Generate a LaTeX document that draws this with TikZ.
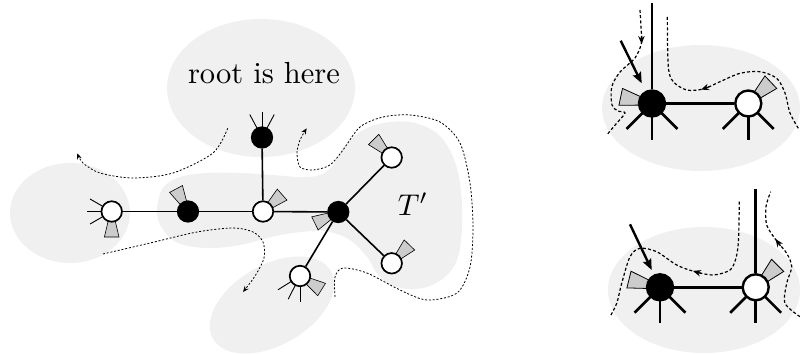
\documentclass[tikz,border=0pt]{standalone}
\usetikzlibrary{calc,arrows.meta}
\definecolor{blobgray}{gray}{0.94}
\definecolor{wedgegray}{gray}{0.8}
% wedge: centre, angle, r0, r1, half-width near, half-width far, line width
\newcommand{\wdg}[7]{%
  \filldraw[fill=wedgegray, draw=black, line width=#7]
    ($(#1)+(#2:#3)+(#2+90:#5)$) -- ($(#1)+(#2:#4)+(#2+90:#6)$) --
    ($(#1)+(#2:#4)+(#2-90:#6)$) -- ($(#1)+(#2:#3)+(#2-90:#5)$) -- cycle;}
\begin{document}
\begin{tikzpicture}[x=1pt,y=-1pt,
  blob/.style={fill=blobgray},
  wn/.style={circle, draw=black, fill=white, line width=1.7pt, minimum size=20.5pt, inner sep=0pt},
  bn/.style={wn, fill=black},
  WN/.style={circle, draw=black, fill=white, line width=2.4pt, minimum size=26pt, inner sep=0pt},
  BN/.style={WN, fill=black},
  edgeL/.style={line width=1.6pt},
  stubL/.style={line width=0.9pt},
  edgeR/.style={line width=2.6pt},
  dotL/.style={line width=0.8pt, dash pattern=on 2pt off 1.8pt},
  dotR/.style={line width=1.2pt, dash pattern=on 3pt off 2.2pt},
  tipL/.style={-{Stealth[length=6pt,width=5pt]}},
  tipR/.style={line width=1.2pt, -{Stealth[length=8pt,width=6.5pt]}},
  bigarrow/.style={line width=2.4pt, -{Stealth[length=11pt,width=9pt,inset=2pt]}},
]
\useasboundingbox (0,0) rectangle (800,354);

% ---------- background blobs ----------
\fill[blob] (70,213) ellipse [x radius=60pt, y radius=50pt];
\fill[blob] (261,88) ellipse [x radius=94pt, y radius=69pt];
\fill[blob] plot[smooth cycle, tension=0.6] coordinates {
  (157,210) (163,188) (180,177) (207,173) (240,173) (273,175) (300,177)
  (320,175) (333,165) (345,145) (365,129) (390,122) (415,123) (440,136)
  (456,165) (462,205) (460,248) (450,272) (427,287) (400,288) (380,277)
  (367,257) (350,240) (330,232) (313,231) (280,235) (240,245) (207,248)
  (178,243) (162,228)};
\fill[blob, rotate around={30:(272,305)}] (272,305) ellipse [x radius=68pt, y radius=40pt];
\fill[blob] (701,108) ellipse [x radius=99pt, y radius=63pt];
\fill[blob] (704,290) ellipse [x radius=96pt, y radius=63pt];

% ---------- texts ----------
\node[scale=3.05] (root) at (264,73) {root is here};
\node[scale=3.0] (tp) at (413,204) {$T'$};

% ---------- left tree ----------
\coordinate (a) at (111.7,211.5);
\coordinate (b) at (188,211.5);
\coordinate (c) at (263,211.5);
\coordinate (d) at (262,137.5);
\coordinate (e) at (338.3,212);
\coordinate (f) at (391.7,157.5);
\coordinate (g) at (391.7,263.3);
\coordinate (h) at (300,276);

\foreach \ang in {150,180,210} \draw[stubL] (a) -- ++(\ang:25);
\foreach \ang in {242,270,298} \draw[stubL] (d) -- ++(\ang:26);
\foreach \ang in {148,117,90} \draw[stubL] (h) -- ++(\ang:26);

\wdg{a}{90}{9}{25.5}{3.4}{7.3}{0.6pt}
\wdg{b}{242}{9}{25.5}{3.4}{7.3}{0.6pt}
\wdg{c}{318.5}{9}{25.5}{3.4}{7.3}{0.6pt}
\wdg{e}{154}{9}{26}{3.4}{7.3}{0.6pt}
\wdg{f}{225}{9}{25.5}{3.4}{7.3}{0.6pt}
\wdg{g}{314}{9}{25.5}{3.4}{7.3}{0.6pt}
\wdg{h}{32}{9}{25.5}{3.4}{7.3}{0.6pt}

\node[wn] (nA) at (a) {};
\node[bn] (nB) at (b) {};
\node[wn] (nC) at (c) {};
\node[bn] (nD) at (d) {};
\node[bn] (nE) at (e) {};
\node[wn] (nF) at (f) {};
\node[wn] (nG) at (g) {};
\node[wn] (nH) at (h) {};

\draw[edgeL] (nA) -- (nB);
\draw[edgeL] (nB) -- (nC);
\draw[edgeL] (nC) -- (nE);
\draw[edgeL] (nC) -- (nD);
\draw[edgeL] (nE) -- (nF);
\draw[edgeL] (nE) -- (nG);
\draw[edgeL] (nE) -- (nH);

% dotted walks (left)
\draw[dotL, tipL] plot[smooth] coordinates {(227.7,128.3) (213,153) (173,173) (133,178) (100,173) (83,163) (77.3,153.3)};
\draw[dotL, tipL] plot[smooth] coordinates {(103,254) (150,243) (197,232) (233,228) (253,232) (263,242) (264,258) (255,276) (243,292)};
\draw[dotL, tipL] plot[smooth] coordinates {(335,297) (335,277) (343,268) (367,273) (400,290) (427,300) (457,293) (470,267) (473,227) (470,183) (460,143) (440,122) (410,115) (383,117) (360,127) (343,150) (330,165) (313,170) (300,167) (297,153) (300,140) (306.7,128.3)};

% ---------- right top ----------
\coordinate (p1) at (652,103.5);
\coordinate (p2) at (748.3,103.5);
\coordinate (pt) at (652,3);
\foreach \ang in {45,90,135} {\draw[edgeR] (p1) -- ++(\ang:36); \draw[edgeR] (p2) -- ++(\ang:36);}
\wdg{p1}{192}{12}{32}{4.2}{8.6}{0.8pt}
\wdg{p2}{316.6}{12}{31}{4.2}{8.6}{0.8pt}
\node[BN] (nP1) at (p1) {};
\node[WN] (nP2) at (p2) {};
\draw[edgeR] (nP1) -- (nP2);
\draw[edgeR] (nP1) -- (pt);
\coordinate (s1) at (620.7,40.7);
\coordinate (t1) at (641.7,83.3);
\draw[bigarrow] (s1) -- (t1);
\draw[dotR] plot[smooth] coordinates {(640,10) (641,28) (641.5,43) (635,58) (620,72) (611.7,87) (612,105) (618,111) (625,113) (616,124) (606.7,135)};
\draw[tipR] (641.4,36) -- (641.6,44);
\draw[dotR] plot[smooth] coordinates {(798.3,128.3) (790,113) (785,93) (776.7,78.3) (760,71.7) (740,73.3) (720,81.7) (703.3,89) (686.7,90) (673.3,81.7) (668.3,66.7) (667.3,15)};
\draw[tipR] (709,86.8) -- (701,89.6);

% ---------- right bottom ----------
\coordinate (q1) at (660,287.3);
\coordinate (q2) at (755.7,287.3);
\coordinate (qt) at (755.7,188.5);
\foreach \ang in {45,90,135} {\draw[edgeR] (q1) -- ++(\ang:36); \draw[edgeR] (q2) -- ++(\ang:36);}
\wdg{q1}{194}{12}{32}{4.2}{8.6}{0.8pt}
\wdg{q2}{315}{12}{31}{4.2}{8.6}{0.8pt}
\node[BN] (nQ1) at (q1) {};
\node[WN] (nQ2) at (q2) {};
\draw[edgeR] (nQ1) -- (nQ2);
\draw[edgeR] (nQ2) -- (qt);
\coordinate (s2) at (630,224.3);
\coordinate (t2) at (651.7,270);
\draw[bigarrow] (s2) -- (t2);
\draw[dotR] plot[smooth] coordinates {(739.3,201.7) (738.5,240) (736,258) (730,270) (713.3,275) (695,271.7) (676.7,265) (656.7,251.7) (640,248.3) (630,256.7) (621.7,283.3) (616.7,303.3) (610,316.7)};
\draw[tipR] (701,273.4) -- (693,270.9);
\draw[dotR] plot[smooth] coordinates {(800,316.7) (785,303.3) (786.7,283.3) (791.7,266.7) (786.7,253.3) (776,240) (766.7,225) (766,206.7) (770.7,191.7)};
\draw[tipR] (780.5,246) -- (775.5,239);
\end{tikzpicture}
\end{document}
